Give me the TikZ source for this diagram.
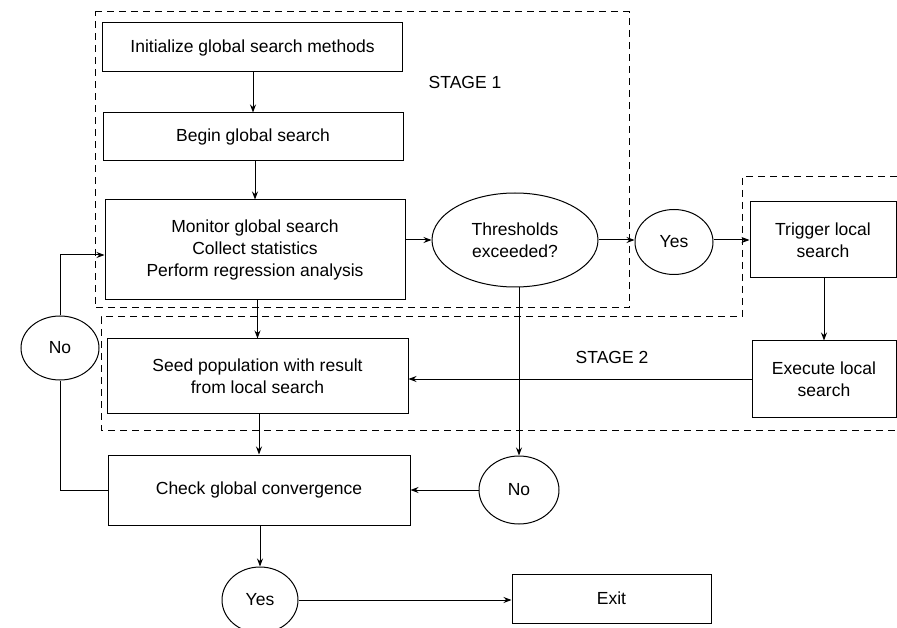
\documentclass[tikz,border=0pt]{standalone}
\usepackage{fontspec}
\setmainfont{Liberation Sans}
\usetikzlibrary{arrows.meta,shapes.geometric}
\begin{document}
\begin{tikzpicture}[x=1pt,y=-1pt,
  every node/.style={font=\fontsize{17.5}{22}\selectfont, align=center, inner sep=0pt},
  box/.style={draw, line width=1pt, rectangle},
  oval/.style={draw, line width=1pt, ellipse},
  conn/.style={line width=1pt, -{Stealth[length=8pt,width=6pt]}},
  plain/.style={line width=1pt},
  stage/.style={line width=1pt, dash pattern=on 7pt off 5pt}]
\useasboundingbox (0,0) rectangle (897,628);
\fill[white] (0,0) rectangle (897,628);

% stage regions
\draw[stage] (95,12) -- (629,12) -- (629,308) -- (95,308) -- cycle;
\draw[stage] (897,177) -- (742,177) -- (742,317) -- (101,317) -- (101,430) -- (897,430);
\node (s1) at (465,82) {STAGE 1};
\node (s2) at (612,357) {STAGE 2};

% nodes
\node[box, minimum width=300pt, minimum height=49pt] (init) at (252.5,47.5) {Initialize global search methods};
\node[box, minimum width=300pt, minimum height=48pt] (begin) at (253,137) {Begin global search};
\node[box, minimum width=300pt, minimum height=100pt] (mon) at (255,250) {Monitor global search\\Collect statistics\\Perform regression analysis};
\node[box, minimum width=301pt, minimum height=74pt] (seed) at (257.5,376) {Seed population with result\\from local search};
\node[box, minimum width=302pt, minimum height=70pt] (check) at (259,490) {Check global convergence};
\node[box, minimum width=199pt, minimum height=49pt] (exit) at (611.5,598.5) {Exit};
\node[box, minimum width=146pt, minimum height=76pt] (trig) at (823,240) {Trigger local\\search};
\node[box, minimum width=144pt, minimum height=76pt] (exec) at (824,379) {Execute local\\search};
\node[oval, minimum width=166pt, minimum height=94pt] (th) at (515,240) {Thresholds\\exceeded?};
\node[oval, minimum width=78pt, minimum height=65pt] (yes1) at (674,242) {Yes};
\node[oval, minimum width=80pt, minimum height=68pt] (nob) at (519,490) {No};
\node[oval, minimum width=78pt, minimum height=64pt] (nol) at (60,348) {No};
\node[oval, minimum width=76pt, minimum height=66pt] (yesb) at (260,600) {Yes};

% connectors
\draw[conn] (init.south -| begin.north) -- (begin.north);
\draw[conn] (begin.south -| mon.north) -- (mon.north);
\draw[conn] (mon.east |- th.west) -- (th.west);
\draw[conn] (th.east) -- (th.east -| yes1.west);
\draw[conn] (yes1.east |- th.east) -- (th.east -| trig.west);
\draw[conn] (trig.south -| exec.north) -- (exec.north);
\draw[conn] (exec.west) -- (exec.west -| seed.east);
\draw[conn] (th.south -| nob.north) -- (nob.north);
\draw[conn] (nob.west) -- (nob.west -| check.east);
\draw[conn] (mon.south -| seed.north) -- (seed.north);
\draw[conn] (seed.south -| check.north) -- (check.north);
\draw[plain] (check.west) -| (nol.south);
\draw[conn] (nol.north) |- ([yshift=-5pt]mon.west);
\draw[conn] (check.south -| yesb.north) -- (yesb.north);
\draw[conn] (yesb.east) -- (yesb.east -| exit.west);
\end{tikzpicture}
\end{document}
